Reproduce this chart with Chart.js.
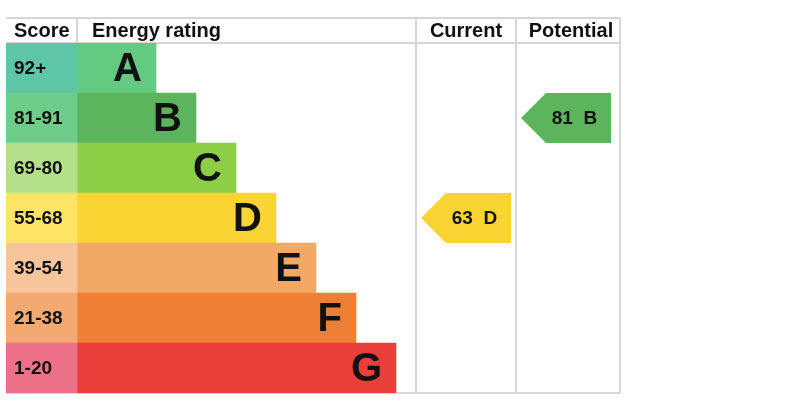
<!DOCTYPE html>
<html>
<head>
<meta charset="utf-8">
<script src="https://cdn.jsdelivr.net/npm/chart.js@4/dist/chart.umd.min.js"></script>
<style>
  html, body { margin: 0; padding: 0; background: #fff; }
  #wrap { width: 789px; height: 411px; }
</style>
</head>
<body>
<div id="wrap"><canvas id="epc"></canvas></div>
<script>
// bands, top to bottom
var ratings = ['A', 'B', 'C', 'D', 'E', 'F', 'G'];
var scoreLabels = ['92+', '81-91', '69-80', '55-68', '39-54', '21-38', '1-20'];
// where each band bar stops (x units, score column ends at 71)
var bandEnds = [150, 190, 230, 270, 310, 350, 390];
var scoreColors = ['#5ec6a6', '#6fcd8b', '#b5e08b', '#fde466', '#f7c59c', '#f2aa72', '#ec7088'];
var bandColors = ['#65ca81', '#5cb55d', '#8dce47', '#f9d432', '#f2a966', '#ee7f34', '#e83f3b'];

var currentScore = 63, currentRating = 'D';
var potentialScore = 81, potentialRating = 'B';

var headers = ['Score', 'Energy rating', 'Current', 'Potential'];

var scoreEnd = 71;
var currentCol = [410, 510];
var potentialCol = [510, 614];

var FONT = '"Liberation Sans", Arial, Helvetica, sans-serif';
var GRID = '#d6d6d6';

function colorOf(r) { return bandColors[ratings.indexOf(r)]; }

// table grid, header, letters and arrows
var epcPlugin = {
    id: 'epc',
    beforeDatasetsDraw: function (chart) {
        var ctx = chart.ctx, x = chart.scales.x, a = chart.chartArea;
        var top = a.top - 25;
        ctx.save();
        ctx.strokeStyle = GRID;
        ctx.lineWidth = 2;
        ctx.beginPath();
        ctx.moveTo(a.left, top); ctx.lineTo(a.right, top);
        ctx.moveTo(a.left, a.top); ctx.lineTo(a.right, a.top);
        ctx.moveTo(a.left, a.bottom); ctx.lineTo(a.right, a.bottom);
        ctx.moveTo(x.getPixelForValue(scoreEnd), top); ctx.lineTo(x.getPixelForValue(scoreEnd), a.top);
        [currentCol[0], potentialCol[0], potentialCol[1]].forEach(function (v) {
            var px = x.getPixelForValue(v);
            ctx.moveTo(px, top); ctx.lineTo(px, a.bottom);
        });
        ctx.stroke();

        ctx.fillStyle = '#111';
        ctx.font = 'bold 20px ' + FONT;
        ctx.textBaseline = 'middle';
        var hy = (top + a.top) / 2 + 1;
        ctx.textAlign = 'left';
        ctx.fillText(headers[0], x.getPixelForValue(8), hy);
        ctx.fillText(headers[1], x.getPixelForValue(86), hy);
        ctx.textAlign = 'center';
        ctx.fillText(headers[2], x.getPixelForValue((currentCol[0] + currentCol[1]) / 2), hy);
        ctx.fillText(headers[3], x.getPixelForValue((potentialCol[0] + potentialCol[1]) / 2) + 3, hy);
        ctx.restore();
    },
    afterDatasetsDraw: function (chart) {
        var ctx = chart.ctx, x = chart.scales.x, y = chart.scales.y;
        ctx.save();
        ctx.fillStyle = '#111';
        ctx.textBaseline = 'middle';

        ctx.font = 'bold 19px ' + FONT;
        ctx.textAlign = 'left';
        chart.getDatasetMeta(0).data.forEach(function (bar, i) {
            ctx.fillText(scoreLabels[i], x.getPixelForValue(8), bar.y + 1);
        });

        ctx.font = 'bold 40px ' + FONT;
        ctx.textAlign = 'right';
        chart.getDatasetMeta(1).data.forEach(function (bar, i) {
            ctx.fillText(ratings[i], bar.x - 14, bar.y + 2);
        });

        function arrow(col, score, rating) {
            var h = y.getPixelForValue(1) - y.getPixelForValue(0);
            var cy = y.getPixelForValue(ratings.indexOf(rating));
            var t = cy - h / 2, b = cy + h / 2;
            var tip = x.getPixelForValue(col[0] + 5);
            var sh = tip + h / 2;
            var right = x.getPixelForValue(col[0] + 95);
            ctx.fillStyle = colorOf(rating);
            ctx.beginPath();
            ctx.moveTo(tip, cy);
            ctx.lineTo(sh, t);
            ctx.lineTo(right, t);
            ctx.lineTo(right, b);
            ctx.lineTo(sh, b);
            ctx.closePath();
            ctx.fill();
            ctx.fillStyle = '#111';
            ctx.font = 'bold 19px ' + FONT;
            ctx.textAlign = 'center';
            ctx.fillText(score + '  ' + rating, (sh + right) / 2 - 4, cy + 1);
        }
        arrow(currentCol, currentScore, currentRating);
        arrow(potentialCol, potentialScore, potentialRating);
        ctx.restore();
    }
};

new Chart(document.getElementById('epc'), {
    type: 'bar',
    data: {
        labels: ratings,
        datasets: [{
            data: ratings.map(function () { return [0, scoreEnd]; }),
            backgroundColor: scoreColors,
            grouped: false,
            barPercentage: 1,
            categoryPercentage: 1
        }, {
            data: bandEnds.map(function (e) { return [scoreEnd, e]; }),
            backgroundColor: bandColors,
            grouped: false,
            barPercentage: 1,
            categoryPercentage: 1
        }]
    },
    options: {
        indexAxis: 'y',
        responsive: true,
        maintainAspectRatio: false,
        animation: false,
        layout: { padding: { left: 6, top: 43, right: 169, bottom: 18 } },
        plugins: { legend: { display: false }, tooltip: { enabled: false } },
        scales: {
            x: { display: false, min: 0, max: 614 },
            y: { display: false }
        }
    },
    plugins: [epcPlugin]
});
</script>
</body>
</html>
